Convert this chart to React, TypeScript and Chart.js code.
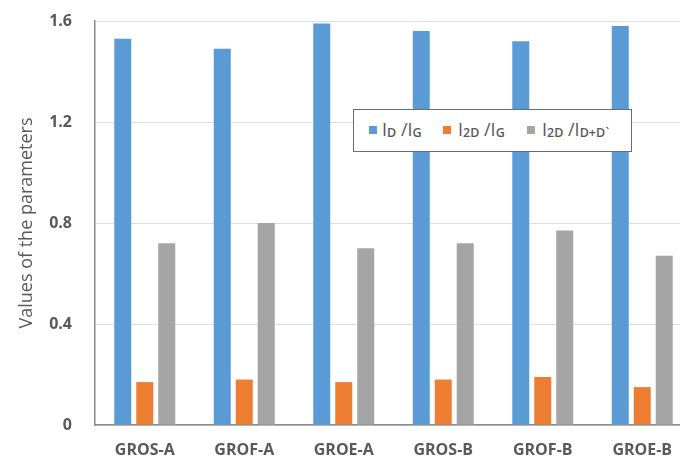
import { useEffect, useRef } from "react"
import { Chart, registerables } from "chart.js"

Chart.register(...registerables)

const categories = ["GROS-A", "GROF-A", "GROE-A", "GROS-B", "GROF-B", "GROE-B"]
const idIg = [1.53, 1.49, 1.59, 1.56, 1.52, 1.58]
const i2dIg = [0.17, 0.18, 0.17, 0.18, 0.19, 0.15]
const i2dIdd = [0.72, 0.8, 0.7, 0.72, 0.77, 0.67]

const BLUE = "#5B9BD5"
const ORANGE = "#ED7D31"
const GRAY = "#A5A5A5"
const TEXT = "#595959"

function Legend() {
  const sub = { fontSize: 12.5, position: "relative" as const, top: 1, fontWeight: 600 }
  const box = (c: string, left: number) => (
    <span style={{ position: "absolute", left, top: 16, width: 8, height: 8, background: c }} />
  )
  const label = (left: number, content: React.ReactNode) => (
    <span style={{ position: "absolute", left, top: 7, whiteSpace: "nowrap" }}>{content}</span>
  )
  return (
    <div
      style={{
        position: "absolute",
        left: 353,
        top: 109,
        width: 277,
        height: 41,
        border: "1.5px solid #6b6b6b",
        background: "#fff",
        fontFamily: "'Open Sans', sans-serif",
        fontSize: 18,
        color: TEXT,
      }}
    >
      {box(BLUE, 15)}
      {label(
        28,
        <>
          I<span style={sub}>D</span> /I<span style={sub}>G</span>
        </>,
      )}
      {box(ORANGE, 89)}
      {label(
        104,
        <>
          I<span style={sub}>2D</span> /I<span style={sub}>G</span>
        </>,
      )}
      {box(GRAY, 173)}
      {label(
        188,
        <>
          I<span style={sub}>2D</span> /I<span style={sub}>D+D`</span>
        </>,
      )}
    </div>
  )
}

export default function App() {
  const chartRef = useRef<HTMLCanvasElement>(null)
  const chartInstance = useRef<Chart | null>(null)

  useEffect(() => {
    if (!chartRef.current) return
    if (chartInstance.current) chartInstance.current.destroy()
    const ctx = chartRef.current.getContext("2d")
    if (!ctx) return

    chartInstance.current = new Chart(ctx, {
      type: "bar",
      data: {
        labels: categories,
        datasets: [
          { label: "ID/IG", data: idIg, backgroundColor: BLUE },
          { label: "I2D/IG", data: i2dIg, backgroundColor: ORANGE },
          { label: "I2D/ID+D'", data: i2dIdd, backgroundColor: GRAY },
        ],
      },
      options: {
        responsive: false,
        maintainAspectRatio: false,
        animation: false,
        layout: { padding: { top: 21, right: 8, bottom: 0, left: 0 } },
        datasets: {
          bar: { categoryPercentage: 0.663, barPercentage: 0.773 },
        },
        plugins: {
          legend: { display: false },
          tooltip: { enabled: false },
        },
        scales: {
          x: {
            grid: { display: false },
            border: { color: "#8a8a8a", width: 1.5 },
            ticks: {
              color: TEXT,
              padding: 8,
              font: { family: "'Open Sans', sans-serif", size: 16, weight: "bold" },
            },
            afterFit: (scale) => {
              scale.height = 37
            },
          },
          y: {
            min: 0,
            max: 1.6,
            grid: { color: "#dedede", drawTicks: false },
            border: { color: "#8a8a8a", width: 1.5 },
            ticks: {
              stepSize: 0.4,
              color: TEXT,
              padding: 23,
              font: { family: "'Open Sans', sans-serif", size: 16, weight: "bold" },
            },
            title: {
              display: true,
              text: "Values of the parameters",
              color: TEXT,
              padding: { top: 16, bottom: 0 },
              font: { family: "'Open Sans', sans-serif", size: 18 },
            },
            afterFit: (scale) => {
              // tick padding would otherwise push the plot down
              scale.width = 95
              scale.paddingTop = 10
              scale.paddingBottom = 0
            },
          },
        },
      },
    })

    return () => {
      if (chartInstance.current) {
        chartInstance.current.destroy()
        chartInstance.current = null
      }
    }
  }, [])

  return (
    <div style={{ position: "fixed", left: 0, top: 0, width: 680, height: 462, overflow: "hidden", background: "#fff" }}>
      <canvas ref={chartRef} width={700} height={462} style={{ position: "absolute", left: 0, top: 0 }} />
      <Legend />
    </div>
  )
}
